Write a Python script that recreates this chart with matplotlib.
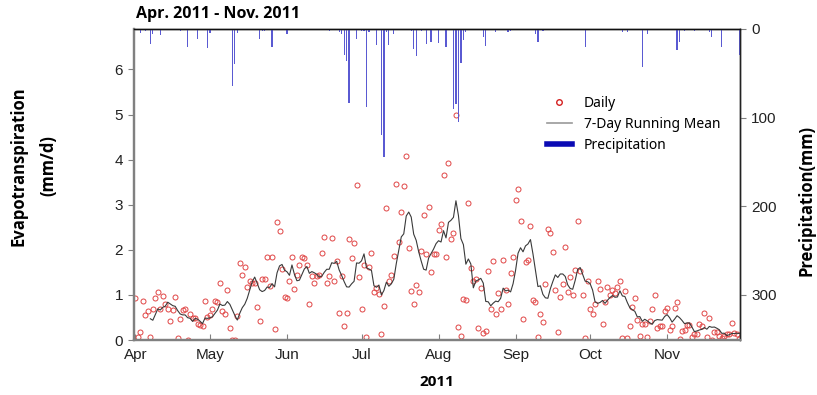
import pandas as pd
import matplotlib
matplotlib.use("Agg")
import matplotlib.pyplot as plt
import matplotlib.dates as mdates
from matplotlib.lines import Line2D

# daily evapotranspiration (mm/d), one value per day from Apr 1 to Nov 30, 2011
et_apr = [0.93, 0.06, 0.18, 0.87, 0.56, 0.64, 0.07, 0.70, 0.93, 1.07,
          0.70, 0.98, 0.81, 0.69, 0.43, 0.67, 0.96, 0.04, 0.46, 0.66,
          0.69, 0.00, 0.57, 0.48, 0.50, 0.36, 0.33, 0.31, 0.87, 0.52]
et_may = [0.55, 0.69, 0.87, 0.84, 1.26, 0.64, 0.58, 1.10, 0.26, 0.00,
          0.00, 0.53, 1.70, 1.44, 1.63, 1.18, 1.31, 1.26, 1.26, 0.74,
          0.43, 1.35, 1.35, 1.84, 1.20, 1.85, 0.24, 2.61, 2.42, 1.58, 0.96]
et_jun = [0.94, 1.30, 1.85, 1.14, 1.44, 1.67, 1.84, 1.81, 1.67, 0.79,
          1.41, 1.26, 1.41, 1.44, 1.93, 2.28, 1.26, 1.41, 2.27, 1.31,
          1.76, 0.59, 1.43, 0.31, 0.59, 2.24, 1.81, 2.15, 3.44, 1.39]
et_jul = [0.68, 1.67, 0.07, 1.63, 1.93, 1.07, 1.15, 1.02, 0.13, 0.76,
          2.93, 1.30, 1.44, 1.87, 3.46, 2.18, 2.83, 3.41, 4.07, 2.05,
          1.09, 0.81, 1.22, 1.07, 1.98, 2.78, 1.91, 2.96, 1.52, 1.91, 1.91]
et_aug = [2.43, 2.58, 3.67, 1.84, 3.93, 2.23, 2.37, 5.00, 0.30, 0.08,
          0.91, 0.89, 3.04, 1.59, 1.30, 1.35, 0.26, 1.15, 0.15, 0.20,
          1.53, 0.68, 1.76, 0.58, 1.05, 0.68, 1.78, 1.10, 0.81, 1.48, 1.85]
et_sep = [3.11, 3.35, 2.63, 0.47, 1.73, 1.78, 2.53, 0.89, 0.84, 0.07,
          0.58, 0.41, 1.24, 2.46, 2.37, 1.96, 1.10, 0.18, 0.95, 1.24,
          2.07, 1.07, 1.39, 0.99, 1.56, 2.64, 1.54, 0.99, 0.04, 1.30]
et_oct = [0.69, 0.57, 0.81, 1.30, 1.13, 0.35, 0.85, 1.17, 1.00, 1.11,
          1.04, 1.17, 1.31, 0.05, 1.09, 0.05, 0.31, 0.73, 0.93, 0.44,
          0.10, 0.36, 0.36, 0.07, 0.43, 0.69, 1.01, 0.26, 0.31, 0.32, 0.64]
et_nov = [0.72, 0.22, 0.32, 0.72, 0.84, 0.02, 0.21, 0.22, 0.33, 0.33,
          0.07, 0.13, 0.13, 0.36, 0.32, 0.61, 0.07, 0.50, 0.00, 0.17,
          0.17, 0.09, 0.05, 0.09, 0.13, 0.13, 0.37, 0.16, 0.13, 0.02]

# rain days (MM-DD) and daily precipitation (mm)
rain_days = ["04-03", "04-05", "04-07", "04-08", "04-11", "04-19", "04-22", "04-26",
             "04-30", "05-01", "05-10", "05-11", "05-12", "05-21", "05-22", "05-23",
             "05-26", "06-01", "06-18", "06-22", "06-23", "06-24", "06-25", "06-26",
             "06-29", "07-01", "07-02", "07-03", "07-04", "07-07", "07-09", "07-10",
             "07-11", "07-12", "07-14", "07-21", "07-22", "07-23", "07-25", "07-27",
             "07-29", "08-01", "08-04", "08-07", "08-08", "08-09", "08-10", "08-11",
             "08-12", "08-19", "08-20", "08-24", "08-29", "08-30", "09-09", "09-10",
             "09-12", "09-29", "10-14", "10-16", "10-22", "10-24", "11-05", "11-06",
             "11-08", "11-12", "11-18", "11-19", "11-23", "11-30"]
rain_mm = [5, 2, 17, 6, 7, 2, 21, 12,
           22, 5, 64, 40, 5, 12, 3, 2,
           21, 6, 2, 4, 6, 29, 36, 84,
           12, 2, 3, 88, 4, 18, 120, 144,
           4, 18, 6, 3, 23, 31, 2, 17,
           15, 16, 21, 90, 85, 105, 39, 13,
           4, 9, 19, 4, 4, 2, 6, 15,
           2, 20, 4, 4, 43, 6, 24, 15,
           2, 2, 4, 9, 21, 30]

dates = pd.date_range("2011-04-01", "2011-11-30", freq="D")
daily = pd.Series(et_apr + et_may + et_jun + et_jul + et_aug + et_sep + et_oct + et_nov,
                  index=dates)
running = daily.rolling(7).mean()
rain_dates = pd.to_datetime(["2011-" + d for d in rain_days])

label_font = "Open Sans"
legend_font = "Noto Sans"
tick_font = "Liberation Sans"

fig = plt.figure(figsize=(8.17, 3.95), dpi=100)
ax = fig.add_axes([0.164, 0.139, 0.742, 0.788])
ax2 = ax.twinx()

ax.plot(dates, daily, linestyle="none", marker="o", markersize=3.6,
        markerfacecolor="none", markeredgecolor="#e04545", markeredgewidth=0.7)
ax.plot(dates, running, color="#3a3a3a", linewidth=0.8)

ax2.bar(rain_dates, rain_mm, width=0.5, color="#5a5ad2", align="center")

ax.set_xlim(pd.Timestamp("2011-03-31 10:00"), pd.Timestamp("2011-11-30 10:00"))
ax.set_ylim(0, 6.9)
ax2.set_ylim(351, 0)

ax.xaxis.set_major_locator(mdates.MonthLocator())
ax.xaxis.set_major_formatter(mdates.DateFormatter("%b"))
ax.set_yticks(range(0, 7))
ax2.set_yticks([0, 100, 200, 300])

ax.tick_params(axis="x", direction="in", length=4, color="#808080", pad=6, labelsize=11)
ax.tick_params(axis="y", direction="out", length=4, color="#808080", pad=4, labelsize=11)
ax2.tick_params(axis="y", direction="out", length=4, color="#808080", pad=4, labelsize=11)
for lab in ax.get_xticklabels() + ax.get_yticklabels() + ax2.get_yticklabels():
    lab.set_fontfamily(tick_font)
    lab.set_color("#222222")

for a in (ax, ax2):
    a.spines["left"].set_color("#808080")
    a.spines["left"].set_linewidth(1.6)
    a.spines["bottom"].set_color("#808080")
    a.spines["bottom"].set_linewidth(1.6)
    a.spines["top"].set_color("#111111")
    a.spines["top"].set_linewidth(1.0)
    a.spines["right"].set_color("#222222")
    a.spines["right"].set_linewidth(1.0)

fig.text(0.0225, 0.58, "Evapotranspiration", rotation=90, ha="center", va="center",
         fontsize=12, fontweight="bold", family=label_font)
fig.text(0.059, 0.58, "(mm/d)", rotation=90, ha="center", va="center",
         fontsize=12, fontweight="bold", family=label_font)
fig.text(0.987, 0.493, "Precipitation(mm)", rotation=90, ha="center", va="center",
         fontsize=12, fontweight="bold", family=label_font)
fig.text(0.535, 0.033, "2011", ha="center", va="center",
         fontsize=11, fontweight="bold", family=label_font)
fig.text(0.166, 0.965, "Apr. 2011 - Nov. 2011", ha="left", va="center",
         fontsize=11.5, fontweight="bold", family=label_font)

handles = [
    Line2D([], [], linestyle="none", marker="o", markersize=4, markerfacecolor="none",
           markeredgecolor="#d42020", markeredgewidth=1.0),
    Line2D([], [], color="#999999", linewidth=1.2),
    Line2D([], [], color="#0a0ab4", linewidth=4),
]
ax2.legend(handles, ["Daily", "7-Day Running Mean", "Precipitation"],
           loc="upper left", bbox_to_anchor=(0.66, 0.825), frameon=False,
           prop={"family": legend_font, "size": 10, "weight": "normal"},
           handlelength=1.8, handletextpad=0.9, labelspacing=0.45)

fig.savefig("out.png", dpi=100)
